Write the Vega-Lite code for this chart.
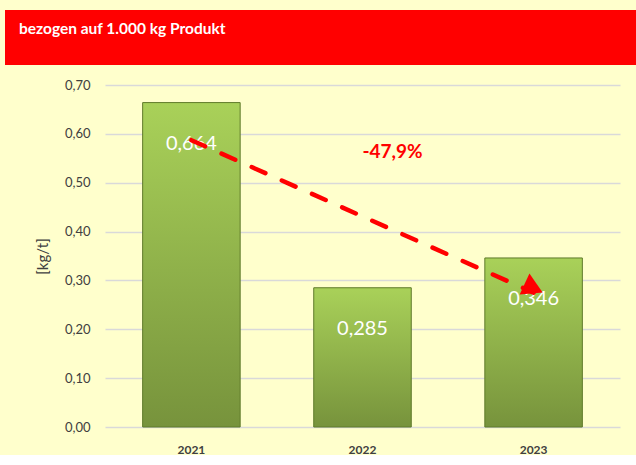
{
  "$schema": "https://vega.github.io/schema/vega-lite/v6.json",
  "background": "#FFFFCC",
  "padding": {"left": 5, "top": 10, "right": 0, "bottom": 0},
  "spacing": 14,
  "datasets": {
    "bars": [
      {"year": "2021", "value": 0.664, "label": "0,664"},
      {"year": "2022", "value": 0.285, "label": "0,285"},
      {"year": "2023", "value": 0.346, "label": "0,346"}
    ],
    "trend": [
      {"year": "2021", "value": 0.587},
      {"year": "2023", "value": 0.275}
    ],
    "head": [
      {"year": "2023", "value": 0.284}
    ],
    "note": [
      {"year": "2022", "value": 0.563, "label": "-47,9%"}
    ]
  },
  "config": {
    "view": {"stroke": null}
  },
  "vconcat": [
    {
      "width": 631,
      "height": 55,
      "view": {"fill": "#FF0000", "stroke": null},
      "title": {
        "text": "bezogen auf 1.000 kg Produkt",
        "anchor": "start",
        "frame": "group",
        "offset": 0,
        "baseline": "alphabetic",
        "dx": 14,
        "dy": 39,
        "color": "#FFFFFF",
        "font": "Lato",
        "fontSize": 15.5,
        "fontWeight": "bold"
      },
      "data": {"values": [{"t": ""}]},
      "mark": {"type": "text"},
      "encoding": {"text": {"field": "t"}}
    },
    {
      "width": 615,
      "height": 342,
      "layer": [
        {
          "data": {"name": "bars"},
          "mark": {
            "type": "bar",
            "color": {
              "gradient": "linear",
              "x1": 0, "y1": 0, "x2": 0, "y2": 1,
              "stops": [
                {"offset": 0, "color": "#A9D159"},
                {"offset": 1, "color": "#77933C"}
              ]
            },
            "stroke": "#5F7A2A",
            "strokeWidth": 1
          },
          "encoding": {
            "x": {
              "field": "year",
              "type": "ordinal",
              "scale": {"range": [100, 615], "paddingInner": 0.43, "paddingOuter": 0.22},
              "axis": {
                "title": null,
                "labelAngle": 0,
                "labelFont": "Lato",
                "labelFontWeight": "bold",
                "labelFontSize": 12,
                "labelColor": "#404040",
                "ticks": false,
                "domain": false,
                "labelPadding": 17
              }
            },
            "y": {
              "field": "value",
              "type": "quantitative",
              "scale": {"domain": [0, 0.7]},
              "axis": {
                "title": "[kg/t]",
                "offset": -100,
                "values": [0, 0.1, 0.2, 0.3, 0.4, 0.5, 0.6, 0.7],
                "labelExpr": "replace(format(datum.value, '.2f'), '.', ',')",
                "labelFont": "Lato",
                "labelFontSize": 13,
                "labelColor": "#404040",
                "labelPadding": 15,
                "ticks": false,
                "domain": false,
                "gridColor": "#D9D9D9",
                "gridWidth": 1.5,
                "titleX": -55,
                "titleFont": "Lato",
                "titleFontSize": 15,
                "titleFontWeight": "normal",
                "titleColor": "#404040"
              }
            }
          }
        },
        {
          "data": {"name": "bars"},
          "mark": {
            "type": "text",
            "dy": 41,
            "baseline": "middle",
            "color": "#FFFFFF",
            "font": "Lato",
            "fontSize": 20
          },
          "encoding": {
            "x": {"field": "year", "type": "ordinal"},
            "y": {"field": "value", "type": "quantitative"},
            "text": {"field": "label"}
          }
        },
        {
          "data": {"name": "trend"},
          "mark": {
            "type": "line",
            "color": "#FF0000",
            "strokeWidth": 4.5,
            "strokeDash": [15, 18],
            "strokeCap": "round"
          },
          "encoding": {
            "x": {"field": "year", "type": "ordinal"},
            "y": {"field": "value", "type": "quantitative"}
          }
        },
        {
          "data": {"name": "head"},
          "mark": {
            "type": "point",
            "shape": "triangle-right",
            "filled": true,
            "opacity": 1,
            "color": "#FF0000",
            "size": 529,
            "angle": 25,
            "dx": -9.5
          },
          "encoding": {
            "x": {"field": "year", "type": "ordinal"},
            "y": {"field": "value", "type": "quantitative"}
          }
        },
        {
          "data": {"name": "note"},
          "mark": {
            "type": "text",
            "dx": 30,
            "baseline": "middle",
            "color": "#FF0000",
            "font": "Lato",
            "fontSize": 19,
            "fontWeight": "bold"
          },
          "encoding": {
            "x": {"field": "year", "type": "ordinal"},
            "y": {"field": "value", "type": "quantitative"},
            "text": {"field": "label"}
          }
        }
      ]
    }
  ]
}
